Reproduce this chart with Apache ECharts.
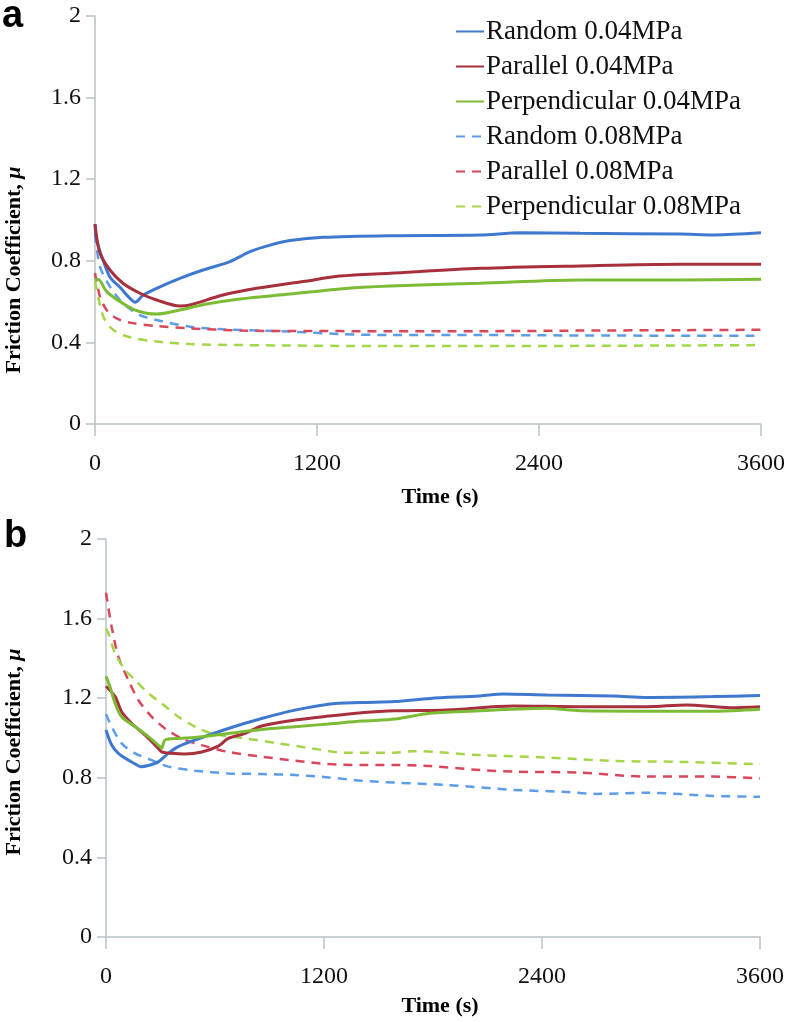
<!DOCTYPE html>
<html>
<head>
<meta charset="utf-8">
<script src="https://cdn.jsdelivr.net/npm/echarts@6/dist/echarts.min.js"></script>
<style>
html,body{margin:0;padding:0;background:#fff;}
#c{width:792px;height:1022px;}
</style>
</head>
<body>
<div id="c"></div>
<script>
// ---- data: [time (s), friction coefficient] ----
const xTicks = [0, 1200, 2400, 3600];
const yTicks = [0, 0.4, 0.8, 1.2, 1.6, 2];
const seriesNames = ['Random 0.04MPa','Parallel 0.04MPa','Perpendicular 0.04MPa','Random 0.08MPa','Parallel 0.08MPa','Perpendicular 0.08MPa'];

// Panel a
const aRandom04 = [[0,0.98],[9,0.90],[45,0.80],[81,0.72],[135,0.67],[189,0.616],[216,0.597],[261,0.632],[333,0.665],[459,0.714],[584,0.755],[730,0.796],[838,0.845],[946,0.877],[1054,0.899],[1234,0.915],[1595,0.923],[2081,0.926],[2300,0.938],[2622,0.935],[3162,0.931],[3350,0.927],[3600,0.937]];
const aParallel04 = [[0,0.98],[27,0.837],[81,0.755],[151,0.69],[243,0.641],[333,0.608],[459,0.578],[513,0.583],[692,0.632],[874,0.665],[1124,0.698],[1324,0.725],[1595,0.739],[2081,0.763],[2622,0.775],[3162,0.783],[3600,0.783]];
const aPerp04 = [[0,0.706],[16,0.709],[63,0.649],[135,0.60],[207,0.562],[279,0.543],[333,0.539],[459,0.559],[603,0.588],[784,0.613],[1054,0.637],[1324,0.662],[1595,0.676],[2081,0.69],[2622,0.706],[3162,0.706],[3600,0.709]];
const aRandom08 = [[0,0.93],[27,0.771],[81,0.673],[151,0.592],[243,0.534],[333,0.51],[513,0.477],[692,0.464],[1054,0.453],[1324,0.441],[1595,0.436],[2081,0.436],[2622,0.434],[3162,0.433],[3600,0.433]];
const aParallel08 = [[0,0.74],[27,0.624],[63,0.559],[117,0.518],[189,0.497],[333,0.48],[513,0.469],[784,0.458],[1054,0.456],[1595,0.455],[2081,0.455],[2622,0.458],[3162,0.46],[3600,0.462]];
const aPerp08 = [[0,0.70],[45,0.526],[99,0.461],[189,0.425],[333,0.404],[513,0.392],[784,0.387],[1595,0.382],[2081,0.382],[2622,0.383],[3162,0.385],[3600,0.387]];

// Panel b
const bRandom04 = [[0,1.04],[31,0.965],[68,0.923],[123,0.889],[160,0.87],[190,0.856],[233,0.862],[288,0.88],[343,0.923],[398,0.957],[490,0.99],[673,1.048],[857,1.098],[1040,1.14],[1224,1.17],[1407,1.178],[1591,1.183],[1783,1.199],[2059,1.211],[2187,1.221],[2426,1.216],[2793,1.211],[2978,1.204],[3341,1.208],[3600,1.213]];
const bParallel04 = [[0,1.26],[50,1.208],[86,1.132],[141,1.074],[214,1.015],[288,0.948],[306,0.93],[361,0.923],[435,0.92],[527,0.93],[618,0.959],[673,0.998],[765,1.023],[857,1.06],[1040,1.09],[1224,1.11],[1407,1.127],[1591,1.137],[1875,1.141],[2242,1.161],[2609,1.157],[2978,1.157],[3196,1.166],[3435,1.152],[3600,1.157]];
const bPerp04 = [[0,1.31],[22,1.258],[50,1.174],[86,1.107],[160,1.057],[233,1.007],[297,0.957],[306,0.948],[325,0.99],[398,0.998],[490,1.003],[673,1.023],[857,1.043],[1040,1.057],[1224,1.07],[1407,1.085],[1591,1.095],[1783,1.124],[2059,1.137],[2426,1.149],[2609,1.137],[2978,1.135],[3341,1.135],[3600,1.145]];
const bRandom08 = [[0,1.12],[31,1.057],[86,0.973],[160,0.923],[251,0.889],[343,0.856],[490,0.836],[673,0.822],[857,0.819],[1040,0.814],[1224,0.802],[1407,0.785],[1591,0.776],[1875,0.764],[2242,0.739],[2517,0.73],[2701,0.719],[2978,0.725],[3341,0.709],[3600,0.705]];
const bParallel08 = [[0,1.73],[31,1.56],[68,1.409],[123,1.291],[178,1.191],[251,1.107],[325,1.048],[416,0.998],[527,0.964],[673,0.93],[857,0.906],[1040,0.886],[1224,0.869],[1407,0.864],[1591,0.864],[1783,0.859],[2059,0.839],[2242,0.831],[2609,0.826],[2978,0.806],[3341,0.806],[3600,0.797]];
const bPerp08 = [[0,1.55],[13,1.526],[50,1.425],[105,1.342],[160,1.291],[233,1.225],[306,1.174],[398,1.107],[490,1.057],[582,1.023],[765,0.998],[949,0.973],[1132,0.948],[1316,0.926],[1591,0.926],[1690,0.934],[2059,0.914],[2426,0.902],[2793,0.885],[3160,0.88],[3600,0.868]];

const colors = ['#3f79cf','#a8303c','#7cbb34','#5b9de8','#d9475a','#a4d64a'];

const serif = '"Liberation Serif", "Times New Roman", serif';
const axisColor = '#b8c2c8';

function xAx(gi){
  return {
    type:'value', gridIndex:gi, min:0, max:3600, interval:1200,
    axisLine:{show:true, lineStyle:{color:axisColor, width:1.5}},
    axisTick:{show:true, inside:false, length:12, lineStyle:{color:axisColor, width:1.5}},
    splitLine:{show:false},
    axisLabel:{fontFamily:serif, fontSize:24, color:'#111', margin:28,
      formatter:function(v){return xTicks.indexOf(v)>=0? String(v):'';}}
  };
}
function yAx(gi){
  return {
    type:'value', gridIndex:gi, min:0, max:2, interval:0.4,
    axisLine:{show:true, onZero:false, lineStyle:{color:axisColor, width:1.5}},
    axisTick:{show:true, inside:false, length:9, lineStyle:{color:axisColor, width:1.5}},
    splitLine:{show:false},
    axisLabel:{fontFamily:serif, fontSize:24, color:'#111', margin:14,
      formatter:function(v){
        const r = Math.round(v*10)/10;
        return yTicks.indexOf(r)>=0 ? String(r) : '';
      }}
  };
}
function mk(name, data, idx, gi){
  const dashed = idx>=3;
  return {
    name:name, type:'line', data:data, xAxisIndex:gi, yAxisIndex:gi,
    showSymbol:false, symbol:'none', smooth:0.3, animation:false,
    lineStyle:{color:colors[idx], width: dashed?2.5:3, type: dashed?[9,7]:'solid'},
    itemStyle:{color:colors[idx]},
    z: dashed?2:3
  };
}

const panelA = [aRandom04,aParallel04,aPerp04,aRandom08,aParallel08,aPerp08];
const panelB = [bRandom04,bParallel04,bPerp04,bRandom08,bParallel08,bPerp08];
const series = [];
panelA.forEach((d,i)=>series.push(mk(seriesNames[i], d, i, 0)));
panelB.forEach((d,i)=>series.push(mk(seriesNames[i], d, i, 1)));

const titleRich = {
  n:{fontFamily:serif, fontWeight:'bold', fontSize:22, color:'#000'},
  i:{fontFamily:serif, fontWeight:'bold', fontStyle:'italic', fontSize:22, color:'#000'}
};

const chart = echarts.init(document.getElementById('c'), null, {renderer:'canvas'});
chart.setOption({
  animation:false,
  backgroundColor:'#fff',
  grid:[
    {left:95, top:16, width:666, height:408, containLabel:false},
    {left:106, top:539, width:654, height:398, containLabel:false}
  ],
  xAxis:[xAx(0), xAx(1)],
  yAxis:[yAx(0), yAx(1)],
  legend:{
    data:seriesNames, orient:'vertical', left:450, top:13,
    itemWidth:28, itemHeight:4, itemGap:8,
    itemStyle:{opacity:0},
    textStyle:{fontFamily:serif, fontSize:27, lineHeight:27, color:'#111', padding:[0,0,0,-3]},
    selectedMode:false
  },
  graphic:[
    {type:'text', left:2, top:-2, style:{text:'a', font:'bold 38px "Liberation Sans", Arial, sans-serif', fill:'#000'}},
    {type:'text', left:4, top:518, style:{text:'b', font:'bold 38px "Liberation Sans", Arial, sans-serif', fill:'#000'}},
    {type:'text', x:14, y:270, rotation:Math.PI/2, style:{
      text:'{n|Friction Coefficient, }{i|μ}', align:'center', verticalAlign:'middle', rich:titleRich}},
    {type:'text', x:14, y:752, rotation:Math.PI/2, style:{
      text:'{n|Friction Coefficient, }{i|μ}', align:'center', verticalAlign:'middle', rich:titleRich}},
    {type:'text', x:440, y:497, style:{text:'Time (s)', font:'bold 22px "Liberation Serif", serif', fill:'#000', align:'center', verticalAlign:'middle'}},
    {type:'text', x:440, y:1006, style:{text:'Time (s)', font:'bold 22px "Liberation Serif", serif', fill:'#000', align:'center', verticalAlign:'middle'}}
  ],
  series:series
});
</script>
</body>
</html>
